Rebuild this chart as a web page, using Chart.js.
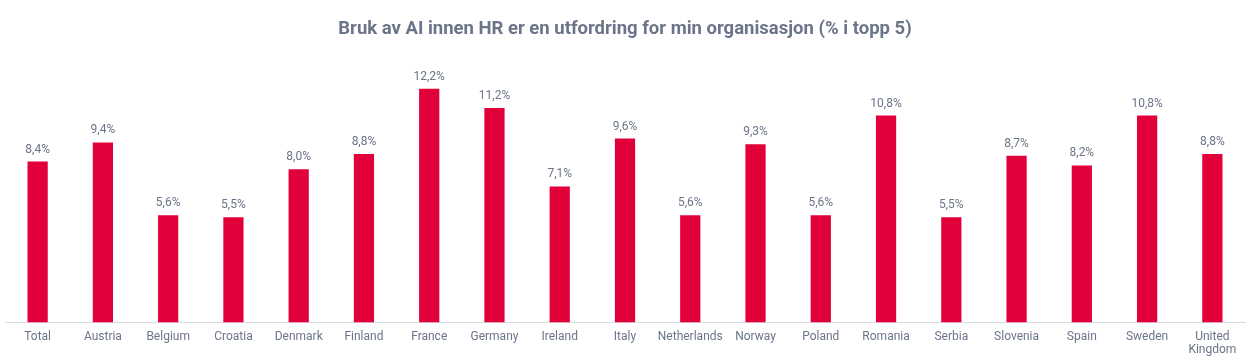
<!DOCTYPE html>
<html>
<head>
<meta charset="utf-8">
<script src="https://cdn.jsdelivr.net/npm/chart.js@4"></script>
<style>
  html, body { margin: 0; padding: 0; background: #fff; }
  #wrap { width: 1248px; height: 364px; position: relative; }
</style>
</head>
<body>
<div id="wrap"><canvas id="chart"></canvas></div>
<script>
// Data
const categories = ['Total', 'Austria', 'Belgium', 'Croatia', 'Denmark', 'Finland', 'France', 'Germany', 'Ireland',
    'Italy', 'Netherlands', 'Norway', 'Poland', 'Romania', 'Serbia', 'Slovenia', 'Spain', 'Sweden', ['United', 'Kingdom']];
const values = [8.4, 9.4, 5.6, 5.5, 8.0, 8.8, 12.2, 11.2, 7.1, 9.6, 5.6, 9.3, 5.6, 10.8, 5.5, 8.7, 8.2, 10.8, 8.8];
const titleText = 'Bruk av AI innen HR er en utfordring for min organisasjon (% i topp 5)';

const textColor = '#6b7489';
const barColor = '#e2003a';

// Value labels above bars (comma decimal)
const valueLabels = {
    id: 'valueLabels',
    afterDatasetsDraw(chart) {
        const ctx = chart.ctx;
        const meta = chart.getDatasetMeta(0);
        ctx.save();
        ctx.font = '12px Roboto';
        ctx.fillStyle = textColor;
        ctx.textAlign = 'center';
        ctx.textBaseline = 'bottom';
        meta.data.forEach((bar, i) => {
            const label = values[i].toFixed(1).replace('.', ',') + '%';
            ctx.fillText(label, bar.x, bar.y - 6);
        });
        ctx.restore();
    }
};

new Chart(document.getElementById('chart'), {
    type: 'bar',
    data: {
        labels: categories,
        datasets: [{
            data: values,
            backgroundColor: barColor,
            barPercentage: 0.31,
            categoryPercentage: 1
        }]
    },
    options: {
        responsive: true,
        maintainAspectRatio: false,
        animation: false,
        layout: { padding: { left: 5, right: 3, top: 0, bottom: 7 } },
        plugins: {
            legend: { display: false },
            tooltip: { enabled: false },
            title: {
                display: true,
                text: titleText,
                color: textColor,
                font: { family: 'Roboto', size: 18.5, weight: 'bold' },
                padding: { top: 18, bottom: 14 }
            }
        },
        scales: {
            y: {
                display: false,
                min: 0,
                max: 14
            },
            x: {
                grid: { display: false },
                border: { display: true, color: '#d9dbe3', width: 1 },
                ticks: {
                    color: textColor,
                    font: { family: 'Roboto', size: 12, lineHeight: 1.1 },
                    padding: 0,
                    maxRotation: 0,
                    autoSkip: false
                }
            }
        }
    },
    plugins: [valueLabels]
});
</script>
</body>
</html>
